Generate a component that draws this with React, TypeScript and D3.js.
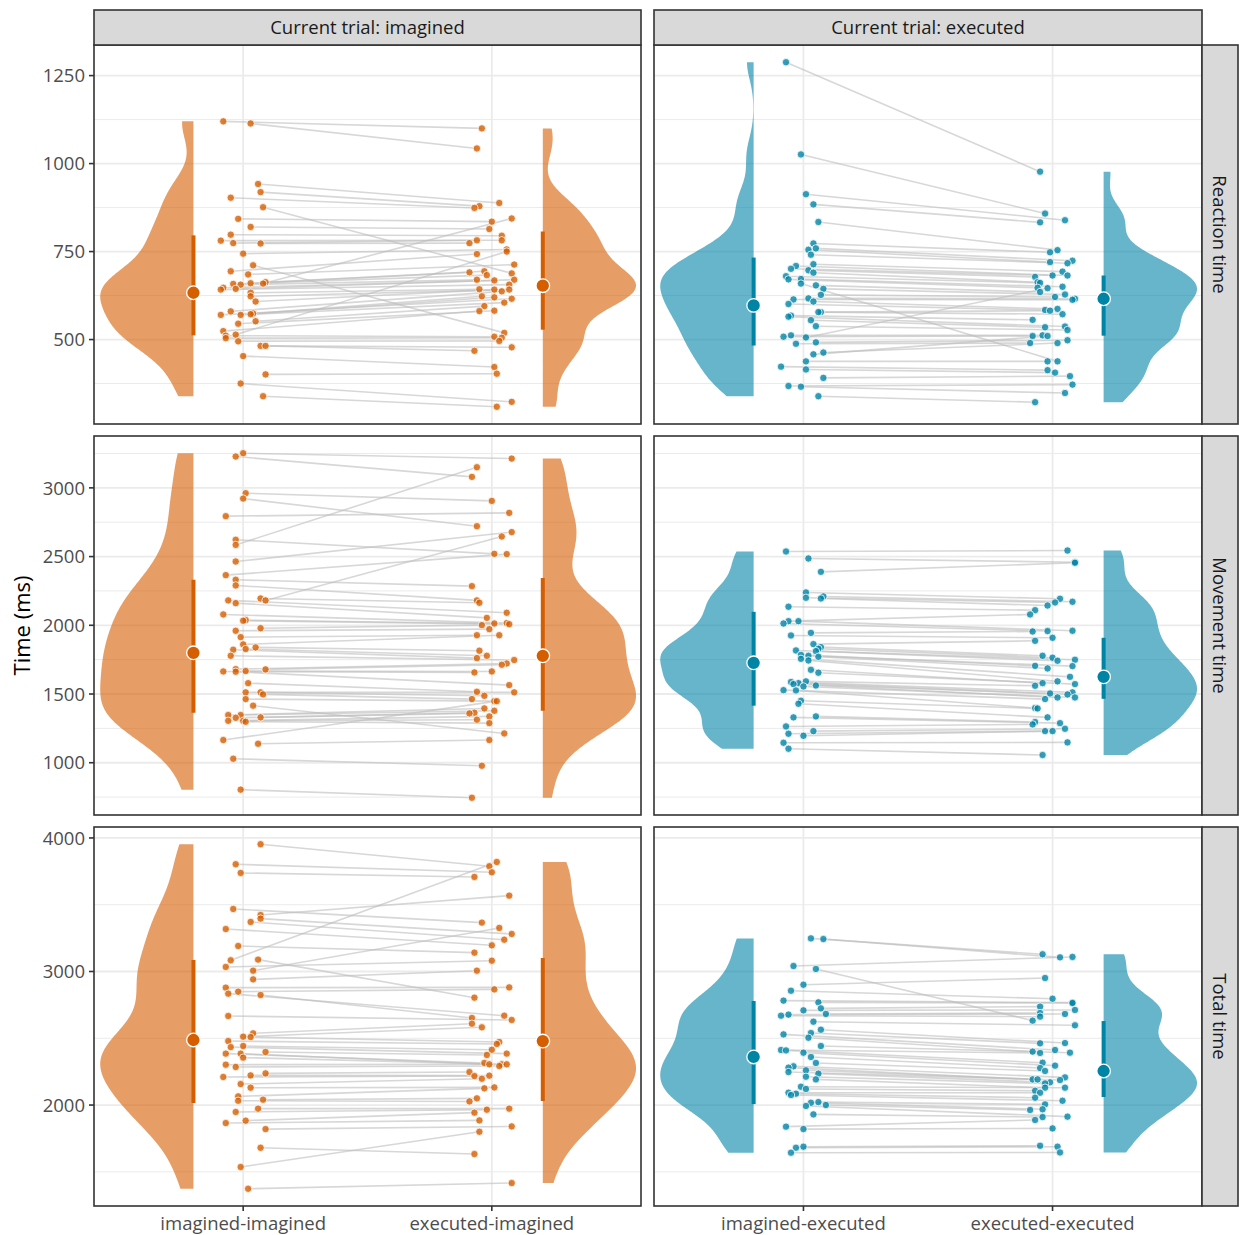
import React from "react";
import * as d3 from "d3";

type Pair = [number, number, number, number]; // [leftValue, leftJitter, rightValue, rightJitter]

const rowLabels = ["Reaction time", "Movement time", "Total time"];
const colLabels = ["Current trial: imagined", "Current trial: executed"];
const xCategories = [
  ["imagined-imagined", "executed-imagined"],
  ["imagined-executed", "executed-executed"],
];
const yTickValues = [
  [500, 750, 1000, 1250],
  [1000, 1500, 2000, 2500, 3000],
  [2000, 3000, 4000],
];
const yTitle = "Time (ms)";

const rtImagined: Pair[] = [
  [1120, -0.08, 1100, -0.04], [1114, 0.03, 1043, -0.06], [942, 0.06, 888, 0.03], [919, 0.07, 879, -0.05],
  [903, -0.05, 874, -0.07], [876, 0.08, 688, 0.08], [843, -0.02, 835, 0.0], [820, 0.03, 814, -0.01],
  [798, -0.05, 795, 0.04], [781, -0.09, 782, 0.04], [774, -0.04, 782, -0.06], [773, 0.07, 774, -0.09],
  [744, 0.0, 756, 0.06], [711, 0.04, 519, 0.05], [694, -0.05, 743, -0.06], [685, 0.02, 713, 0.09],
  [663, 0.09, 694, -0.03], [660, 0.03, 691, -0.09], [659, 0.08, 844, 0.08], [658, -0.04, 683, -0.02],
  [656, -0.01, 670, -0.06], [647, -0.08, 670, 0.09], [644, -0.03, 668, 0.01], [642, -0.09, 656, 0.07],
  [633, 0.03, 643, -0.05], [623, 0.03, 642, 0.07], [608, 0.05, 642, 0.01], [580, -0.05, 637, 0.04],
  [574, 0.04, 623, -0.04], [572, 0.03, 620, 0.01], [570, -0.09, 616, 0.08], [570, -0.01, 605, 0.05],
  [552, 0.05, 595, -0.03], [545, -0.02, 582, 0.01], [524, -0.08, 581, -0.05], [514, -0.03, 750, 0.06],
  [511, -0.07, 508, 0.01], [504, -0.07, 505, 0.04], [495, -0.02, 496, 0.03], [482, 0.07, 478, 0.08],
  [482, 0.09, 468, -0.07], [453, 0.0, 422, 0.01], [401, 0.09, 403, 0.02], [375, -0.01, 323, 0.08],
  [339, 0.08, 309, 0.02],
];

const rtExecuted: Pair[] = [
  [1288, -0.07, 977, -0.05], [1026, -0.01, 858, -0.03], [913, 0.01, 839, 0.05], [884, 0.04, 833, -0.05],
  [834, 0.06, 754, 0.02], [773, 0.04, 748, -0.01], [759, 0.05, 724, 0.08], [755, 0.02, 720, -0.01],
  [741, 0.03, 717, 0.06], [714, 0.04, 693, 0.04], [709, -0.03, 682, 0.06], [701, -0.05, 682, 0.0],
  [697, 0.02, 678, -0.07], [690, 0.04, 663, -0.06], [680, -0.07, 661, -0.05], [672, -0.01, 650, 0.04],
  [671, -0.06, 647, -0.06], [659, -0.01, 438, 0.02], [654, 0.05, 635, -0.05], [644, 0.08, 628, 0.05],
  [627, 0.07, 621, 0.01], [617, 0.02, 616, 0.09], [614, -0.04, 613, 0.08], [608, 0.04, 587, 0.02],
  [601, -0.06, 584, -0.03], [578, 0.07, 582, -0.01], [578, 0.06, 572, 0.04], [568, -0.05, 556, -0.08],
  [565, -0.06, 537, 0.05], [555, 0.03, 535, -0.03], [538, 0.05, 527, 0.06], [512, -0.05, 512, -0.04],
  [508, -0.08, 510, -0.08], [506, 0.01, 646, -0.02], [492, 0.05, 498, 0.06], [488, -0.03, 490, -0.09],
  [463, 0.08, 490, 0.02], [458, 0.04, 510, -0.02], [438, 0.01, 438, -0.02], [423, -0.09, 413, -0.02],
  [415, 0.01, 406, 0.01], [391, 0.08, 396, 0.07], [368, -0.06, 372, 0.08], [366, -0.01, 348, 0.05],
  [339, 0.06, 322, -0.07],
];

const mtImagined: Pair[] = [
  [3252, 0.0, 3213, 0.08], [3228, -0.03, 3080, -0.08], [2961, 0.01, 2905, 0.0], [2922, 0.0, 2721, -0.06],
  [2794, -0.07, 2818, 0.07], [2622, -0.03, 2520, 0.01], [2585, -0.03, 3150, -0.06], [2464, -0.03, 2678, 0.08],
  [2365, -0.07, 2518, 0.06], [2331, -0.03, 2285, -0.08], [2290, -0.03, 2181, -0.06], [2195, 0.07, 2164, -0.05],
  [2181, 0.09, 2646, 0.04], [2181, -0.06, 2091, 0.06], [2161, -0.03, 2054, -0.02], [2079, -0.08, 2016, 0.06],
  [2038, 0.01, 2013, 0.01], [2033, 0.0, 2008, 0.07], [1979, 0.07, 2001, -0.04], [1960, -0.03, 1972, -0.01],
  [1914, -0.01, 1928, -0.06], [1861, 0.0, 1928, 0.03], [1839, 0.05, 1815, -0.05], [1827, 0.01, 1778, -0.02],
  [1822, -0.04, 1761, -0.06], [1778, -0.05, 1747, 0.09], [1681, -0.03, 1722, 0.06], [1679, 0.09, 1713, 0.04],
  [1667, 0.01, 1664, 0.0], [1664, -0.08, 1657, -0.07], [1662, -0.03, 1565, 0.07], [1579, 0.02, 1516, -0.06],
  [1512, 0.01, 1512, 0.09], [1512, 0.07, 1487, -0.03], [1497, 0.08, 1463, -0.08], [1463, 0.01, 1448, 0.01],
  [1415, 0.04, 1213, 0.05], [1347, -0.06, 1395, -0.03], [1347, -0.01, 1378, 0.01], [1330, 0.07, 1364, -0.07],
  [1327, -0.03, 1359, -0.09], [1305, -0.06, 1337, -0.01], [1305, 0.0, 1313, -0.06], [1298, 0.01, 1288, -0.01],
  [1165, -0.08, 1448, 0.02], [1138, 0.06, 1165, -0.01], [1029, -0.04, 978, -0.04], [804, -0.01, 745, -0.08],
];

const mtExecuted: Pair[] = [
  [2537, -0.07, 2544, 0.06], [2486, 0.02, 2459, 0.09], [2389, 0.07, 2455, 0.09], [2239, 0.01, 2193, 0.03],
  [2210, 0.08, 2171, 0.08], [2200, 0.01, 2166, 0.01], [2195, 0.07, 2144, -0.02], [2135, -0.06, 2110, -0.07],
  [2030, -0.06, 2079, -0.09], [2030, -0.02, 1960, 0.08], [2013, -0.08, 1958, -0.02], [1945, 0.03, 1955, -0.08],
  [1926, -0.05, 1909, 0.0], [1863, 0.04, 1887, -0.07], [1841, 0.07, 1778, -0.04], [1829, 0.06, 1764, 0.0],
  [1817, -0.03, 1749, 0.09], [1812, 0.05, 1742, 0.02], [1785, -0.01, 1705, -0.07], [1778, 0.02, 1703, 0.08],
  [1771, 0.06, 1686, -0.02], [1756, -0.01, 1625, 0.07], [1744, 0.02, 1592, 0.02], [1676, 0.03, 1579, -0.04],
  [1655, 0.06, 1572, 0.09], [1592, 0.01, 1560, -0.07], [1587, -0.05, 1512, 0.08], [1579, -0.02, 1504, -0.01],
  [1572, -0.04, 1497, 0.06], [1562, 0.05, 1475, 0.02], [1555, 0.0, 1475, 0.09], [1528, -0.08, 1463, -0.03],
  [1526, -0.03, 1398, -0.07], [1451, -0.01, 1395, -0.06], [1429, -0.02, 1330, -0.02], [1337, 0.05, 1296, -0.07],
  [1330, -0.04, 1288, 0.03], [1264, -0.07, 1279, -0.08], [1230, 0.04, 1247, 0.05], [1211, -0.06, 1230, -0.03],
  [1196, 0.0, 1230, 0.0], [1145, -0.08, 1148, 0.06], [1102, -0.06, 1056, -0.04],
];

const ttImagined: Pair[] = [
  [3953, 0.07, 3788, -0.01], [3803, -0.03, 3743, 0.0], [3738, -0.01, 3708, -0.07], [3468, -0.04, 3366, -0.04],
  [3423, 0.07, 3568, 0.07], [3396, 0.07, 3281, 0.08], [3371, 0.03, 3238, 0.05], [3318, -0.07, 3196, 0.0],
  [3191, -0.02, 3141, -0.07], [3089, 0.06, 2804, -0.07], [3084, -0.05, 3820, 0.02], [3034, -0.07, 3081, 0.0],
  [3006, 0.04, 3326, 0.03], [2941, 0.04, 3006, -0.06], [2879, -0.07, 2881, 0.07], [2849, -0.02, 2866, 0.01],
  [2834, -0.06, 2669, 0.05], [2824, 0.07, 2652, -0.08], [2667, -0.06, 2637, 0.08], [2537, 0.04, 2609, -0.08],
  [2512, 0.0, 2582, -0.04], [2509, 0.03, 2472, 0.03], [2479, -0.06, 2457, 0.02], [2442, 0.0, 2414, 0.0],
  [2434, -0.05, 2385, 0.06], [2397, 0.09, 2375, -0.02], [2385, -0.07, 2315, -0.03], [2385, -0.01, 2305, -0.01],
  [2355, 0.0, 2305, 0.04], [2302, -0.07, 2305, 0.06], [2285, -0.03, 2292, 0.03], [2237, 0.09, 2247, -0.09],
  [2222, 0.03, 2220, -0.01], [2210, -0.08, 2217, -0.07], [2157, -0.01, 2197, -0.04], [2130, 0.03, 2132, 0.01],
  [2065, -0.02, 2125, -0.03], [2040, 0.08, 2050, -0.06], [2032, -0.02, 2027, -0.09], [1973, 0.06, 1973, 0.07],
  [1948, -0.03, 1965, -0.02], [1883, 0.01, 1943, -0.07], [1865, -0.07, 1885, -0.05], [1820, 0.09, 1840, 0.08],
  [1680, 0.07, 1633, -0.07], [1536, -0.01, 1800, -0.05], [1373, 0.02, 1416, 0.08],
];

const ttExecuted: Pair[] = [
  [3248, 0.03, 3129, -0.04], [3243, 0.08, 3106, 0.03], [3041, -0.04, 3109, 0.08], [3019, 0.05, 2632, -0.08],
  [2901, 0.0, 2951, -0.03], [2856, -0.05, 2796, 0.0], [2782, -0.08, 2767, 0.08], [2769, 0.06, 2764, 0.08],
  [2724, 0.07, 2737, -0.05], [2709, 0.0, 2712, 0.09], [2682, 0.09, 2689, -0.05], [2677, -0.06, 2682, 0.05],
  [2669, -0.09, 2662, -0.05], [2624, 0.04, 2597, 0.09], [2564, 0.07, 2464, 0.05], [2539, 0.03, 2462, -0.05],
  [2529, -0.08, 2412, 0.01], [2504, 0.02, 2400, -0.08], [2442, 0.07, 2392, 0.07], [2412, -0.09, 2390, -0.05],
  [2409, -0.07, 2317, -0.04], [2392, 0.0, 2295, 0.01], [2360, 0.03, 2277, -0.05], [2315, 0.05, 2255, -0.03],
  [2290, -0.04, 2207, 0.05], [2280, -0.06, 2192, -0.08], [2260, 0.01, 2192, -0.06], [2247, -0.06, 2187, 0.03],
  [2235, 0.06, 2170, -0.01], [2212, 0.01, 2162, -0.03], [2192, 0.05, 2130, -0.03], [2137, -0.01, 2130, 0.05],
  [2120, 0.01, 2107, -0.07], [2092, -0.06, 2092, -0.05], [2085, -0.03, 2055, -0.07], [2075, -0.05, 2032, 0.04],
  [2022, 0.06, 2005, -0.03], [2017, 0.03, 1968, -0.04], [2000, 0.09, 1963, -0.09], [1993, 0.01, 1913, 0.06],
  [1930, 0.04, 1910, -0.04], [1838, -0.07, 1888, -0.07], [1820, 0.0, 1825, 0.0], [1688, 0.0, 1695, -0.05],
  [1680, -0.03, 1688, 0.02], [1643, -0.05, 1645, 0.03],
];

// summary: [centre, lower, upper] for the left and right condition of each panel
const rtImaginedStats = [[633, 512, 796], [653, 528, 807]];
const rtExecutedStats = [[597, 483, 733], [616, 511, 682]];
const mtImaginedStats = [[1800, 1364, 2331], [1778, 1378, 2345]];
const mtExecutedStats = [[1727, 1415, 2098], [1625, 1465, 1909]];
const ttImaginedStats = [[2487, 2015, 3086], [2479, 2030, 3101]];
const ttExecutedStats = [[2360, 2007, 2779], [2255, 2060, 2629]];

const panelData: Pair[][][] = [
  [rtImagined, rtExecuted],
  [mtImagined, mtExecuted],
  [ttImagined, ttExecuted],
];
const panelStats = [
  [rtImaginedStats, rtExecutedStats],
  [mtImaginedStats, mtExecutedStats],
  [ttImaginedStats, ttExecutedStats],
];
const colColors = ["#D55E00", "#0084A6"];

const FONT = "'Open Sans', 'Noto Sans', sans-serif";
const COLS = [
  { x0: 94, x1: 641 },
  { x0: 654, x1: 1202 },
];
const ROWS = [
  { y0: 45, y1: 424 },
  { y0: 436, y1: 815 },
  { y0: 827, y1: 1206 },
];
const BW_ADJUST = 0.8;

function nrd0(v: number[]) {
  const s = v.slice().sort(d3.ascending);
  const sd = d3.deviation(s) || 1;
  const iqr = (d3.quantileSorted(s, 0.75) as number) - (d3.quantileSorted(s, 0.25) as number);
  const lo = Math.min(sd, iqr / 1.34) || sd;
  return 0.9 * lo * Math.pow(s.length, -0.2);
}

function kde(v: number[]): [number, number][] {
  const bw = nrd0(v) * BW_ADJUST;
  const [mn, mx] = d3.extent(v) as [number, number];
  const n = 256;
  return d3.range(n).map((i) => {
    const y = mn + ((mx - mn) * i) / (n - 1);
    const d = d3.mean(v, (x) => Math.exp(-0.5 * ((y - x) / bw) ** 2)) as number;
    return [y, d] as [number, number];
  });
}

function Panel({ r, c }: { r: number; c: number }) {
  const data = panelData[r][c];
  const stats = panelStats[r][c];
  const color = colColors[c];
  const { x0, x1 } = COLS[c];
  const { y0, y1 } = ROWS[r];
  const all = panelData[r].flatMap((p) => p.flatMap((d) => [d[0], d[2]]));
  const [mn, mx] = d3.extent(all) as [number, number];
  const pad = (mx - mn) * 0.05;
  const ys = d3.scaleLinear().domain([mn - pad, mx + pad]).range([y1, y0]);
  const xs = d3.scaleLinear().domain([0.4, 2.6]).range([x0, x1]);
  const ticks = yTickValues[r];
  const step = ticks[1] - ticks[0];
  const minor = d3
    .range(ticks[0] - step / 2, ticks[ticks.length - 1] + step, step)
    .filter((t) => t > mn - pad && t < mx + pad);
  const halfW = 0.375;

  const violins = [0, 1].map((side) => {
    const vals = data.map((d) => (side === 0 ? d[0] : d[2]));
    const dens = kde(vals);
    const maxD = d3.max(dens, (d) => d[1]) as number;
    const flat = side === 0 ? 0.8 : 2.205;
    const area = d3
      .area<[number, number]>()
      .y((d) => ys(d[0]))
      .x0(() => xs(flat))
      .x1((d) => xs(side === 0 ? flat - (d[1] / maxD) * halfW : flat + (d[1] / maxD) * halfW));
    return area(dens) as string;
  });

  return (
    <g>
      <rect x={x0} y={y0} width={x1 - x0} height={y1 - y0} fill="#fff" />
      {minor.map((t) => (
        <line key={"mi" + t} x1={x0} x2={x1} y1={ys(t)} y2={ys(t)} stroke="#EBEBEB" strokeWidth={1} />
      ))}
      {ticks.map((t) => (
        <line key={"ma" + t} x1={x0} x2={x1} y1={ys(t)} y2={ys(t)} stroke="#EBEBEB" strokeWidth={1.8} />
      ))}
      {[1, 2].map((t) => (
        <line key={"v" + t} x1={xs(t)} x2={xs(t)} y1={y0} y2={y1} stroke="#EBEBEB" strokeWidth={1.8} />
      ))}
      {violins.map((p, i) => (
        <path key={"vio" + i} d={p} fill={color} fillOpacity={0.6} />
      ))}
      {data.map((d, i) => (
        <line
          key={"l" + i}
          x1={xs(1 + d[1])}
          y1={ys(d[0])}
          x2={xs(2 + d[3])}
          y2={ys(d[2])}
          stroke="#BDBDBD"
          strokeOpacity={0.6}
          strokeWidth={1.6}
        />
      ))}
      {data.map((d, i) => (
        <g key={"p" + i}>
          <circle cx={xs(1 + d[1])} cy={ys(d[0])} r={3.7} fill={color} fillOpacity={0.8} stroke="#fff" strokeWidth={0.8} />
          <circle cx={xs(2 + d[3])} cy={ys(d[2])} r={3.7} fill={color} fillOpacity={0.8} stroke="#fff" strokeWidth={0.8} />
        </g>
      ))}
      {stats.map((s, i) => {
        const x = xs(i === 0 ? 0.8 : 2.205);
        return (
          <g key={"s" + i}>
            <line x1={x} x2={x} y1={ys(s[1])} y2={ys(s[2])} stroke={color} strokeWidth={4} />
            <circle cx={x} cy={ys(s[0])} r={6.8} fill={color} stroke="#fff" strokeWidth={1.3} />
          </g>
        );
      })}
      <rect x={x0} y={y0} width={x1 - x0} height={y1 - y0} fill="none" stroke="#333333" strokeWidth={1.6} />
      {c === 0 &&
        ticks.map((t) => (
          <g key={"yt" + t}>
            <line x1={x0 - 5} x2={x0} y1={ys(t)} y2={ys(t)} stroke="#333333" strokeWidth={1.6} />
            <text x={x0 - 9} y={ys(t)} dy="0.36em" textAnchor="end" fontSize={18.5} fill="#4D4D4D">
              {t}
            </text>
          </g>
        ))}
      {r === 2 &&
        [1, 2].map((t, i) => (
          <g key={"xt" + t}>
            <line x1={xs(t)} x2={xs(t)} y1={y1} y2={y1 + 5} stroke="#333333" strokeWidth={1.6} />
            <text x={xs(t)} y={y1 + 24} textAnchor="middle" fontSize={18.5} fill="#4D4D4D">
              {xCategories[c][i]}
            </text>
          </g>
        ))}
      {r === 0 && (
        <g>
          <rect x={x0} y={10} width={x1 - x0} height={y0 - 10} fill="#D9D9D9" stroke="#333333" strokeWidth={1.6} />
          <text x={(x0 + x1) / 2} y={(10 + y0) / 2} dy="0.36em" textAnchor="middle" fontSize={18.5} fill="#1A1A1A">
            {colLabels[c]}
          </text>
        </g>
      )}
      {c === 1 && (
        <g>
          <rect x={x1} y={y0} width={1238 - x1} height={y1 - y0} fill="#D9D9D9" stroke="#333333" strokeWidth={1.6} />
          <text
            transform={`translate(${(x1 + 1238) / 2},${(y0 + y1) / 2}) rotate(90)`}
            dy="0.36em"
            textAnchor="middle"
            fontSize={18.5}
            fill="#1A1A1A"
          >
            {rowLabels[r]}
          </text>
        </g>
      )}
    </g>
  );
}

export default function App() {
  return (
    <svg
      width={1239}
      height={1235}
      style={{ position: "absolute", left: 0, top: 0, background: "#fff" }}
      fontFamily={FONT}
    >
      <rect width={1239} height={1235} fill="#fff" />
      {[0, 1, 2].map((r) => [0, 1].map((c) => <Panel key={r + "-" + c} r={r} c={c} />))}
      <text
        transform={`translate(22,${(ROWS[0].y0 + ROWS[2].y1) / 2}) rotate(-90)`}
        dy="0.36em"
        textAnchor="middle"
        fontSize={22}
        fill="#000"
      >
        {yTitle}
      </text>
    </svg>
  );
}
